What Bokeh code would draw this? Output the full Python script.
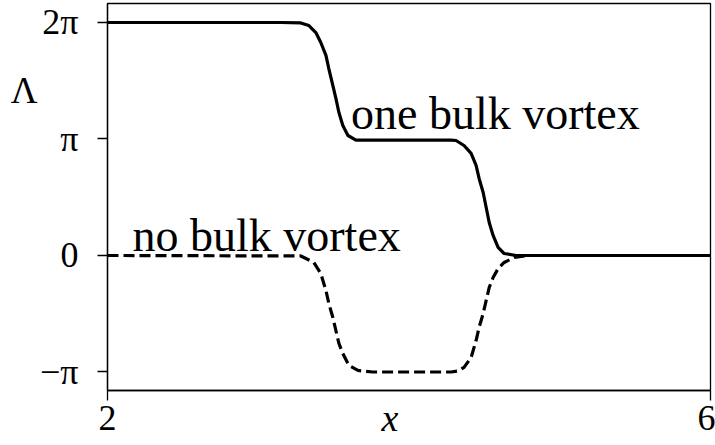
from bokeh.plotting import figure
from bokeh.models import FixedTicker, Label, LinearAxis
from bokeh.embed import file_html
from bokeh.resources import INLINE

# Data (Lambda in units of pi)
x_one = [2.0, 3.150, 3.282, 3.336, 3.382, 3.415, 3.449, 3.468, 3.495, 3.515, 3.535, 3.561, 3.595,
         3.648, 3.781, 4.279, 4.312, 4.365, 4.412, 4.445, 4.465, 4.492, 4.512, 4.532, 4.558,
         4.591, 4.631, 4.711, 6.0]
y_one = [2.0, 2.0, 1.996, 1.974, 1.914, 1.828, 1.717, 1.605, 1.459, 1.348, 1.227, 1.116, 1.030,
         0.991, 0.990, 0.990, 0.987, 0.944, 0.876, 0.773, 0.661, 0.541, 0.412, 0.283, 0.172,
         0.069, 0.017, 0.0, 0.0]

x_no = [2.0, 3.282, 3.369, 3.415, 3.449, 3.468, 3.495, 3.515, 3.535, 3.561, 3.601, 3.661, 3.761,
        4.279, 4.326, 4.365, 4.412, 4.445, 4.465, 4.492, 4.512, 4.532, 4.558, 4.591, 4.631,
        4.698, 4.791, 6.0]
y_no = [0.0, -0.004, -0.060, -0.155, -0.300, -0.412, -0.532, -0.644, -0.755, -0.841, -0.944,
        -0.987, -1.0, -1.0, -0.991, -0.961, -0.876, -0.730, -0.618, -0.498, -0.386, -0.275,
        -0.189, -0.112, -0.060, -0.017, 0.0, 0.0]

y_ticks = [-1, 0, 1, 2]
y_tick_labels = ["\u2212\u03c0", "0", "\u03c0", "2\u03c0"]
x_ticks = [2, 6]
y_name_pos = 1.42
y_name = "\u039b"
x_name = "x"

SERIF = "Liberation Serif"

p = figure(width=715, height=445, x_range=(2, 6), y_range=(-1.159, 2.163),
           output_backend="svg", toolbar_location=None,
           min_border_left=107, min_border_right=5, min_border_top=3, min_border_bottom=55)

p.line(x_one, y_one, line_color="black", line_width=3.2)
p.line(x_no, y_no, line_color="black", line_width=3.2, line_dash="11 5")

p.xgrid.visible = False
p.ygrid.visible = False
p.outline_line_color = "black"
p.outline_line_width = 1.3
p.outline_line_alpha = 1.0
p.background_fill_color = "white"
p.border_fill_color = "white"

p.yaxis.ticker = FixedTicker(ticks=y_ticks)
p.yaxis.major_label_overrides = {t: l for t, l in zip(y_ticks, y_tick_labels)}
p.xaxis.ticker = FixedTicker(ticks=x_ticks)

for ax in (p.xaxis, p.yaxis):
    ax.major_label_text_font = SERIF
    ax.major_label_text_font_size = "36px"
    ax.major_label_text_color = "black"
    ax.major_tick_in = 0
    ax.major_tick_out = 10
    ax.major_tick_line_width = 1.3
    ax.major_tick_line_color = "black"
    ax.minor_tick_line_color = None
    ax.axis_line_color = "black"
    ax.axis_line_width = 1.3

p.yaxis.major_label_standoff = 19
p.xaxis.major_label_standoff = 5

# x axis name, on the same line as the tick labels
p.xaxis.axis_label = x_name + "\u2003"
p.xaxis.axis_label_text_font = SERIF
p.xaxis.axis_label_text_font_style = "italic"
p.xaxis.axis_label_text_font_size = "38px"
p.xaxis.axis_label_text_color = "black"
p.xaxis.axis_label_standoff = -36

# horizontal y axis name as an extra, tick-less axis
name_axis = LinearAxis(ticker=FixedTicker(ticks=[y_name_pos]),
                       major_label_overrides={y_name_pos: y_name},
                       axis_line_color=None, major_tick_line_color=None,
                       minor_tick_line_color=None, major_tick_in=0, major_tick_out=0,
                       major_label_standoff=0, major_label_text_font=SERIF,
                       major_label_text_font_size="37px", major_label_text_color="black")
p.add_layout(name_axis, "left")

p.add_layout(Label(x=3.615, y=1.219, text="one bulk vortex", text_font=SERIF,
                   text_font_size="46px", text_color="black", text_baseline="alphabetic"))
p.add_layout(Label(x=2.166, y=0.172, text="no bulk vortex", text_font=SERIF,
                   text_font_size="46px", text_color="black", text_baseline="alphabetic"))

open("out.html", "w").write(file_html(p, INLINE))
